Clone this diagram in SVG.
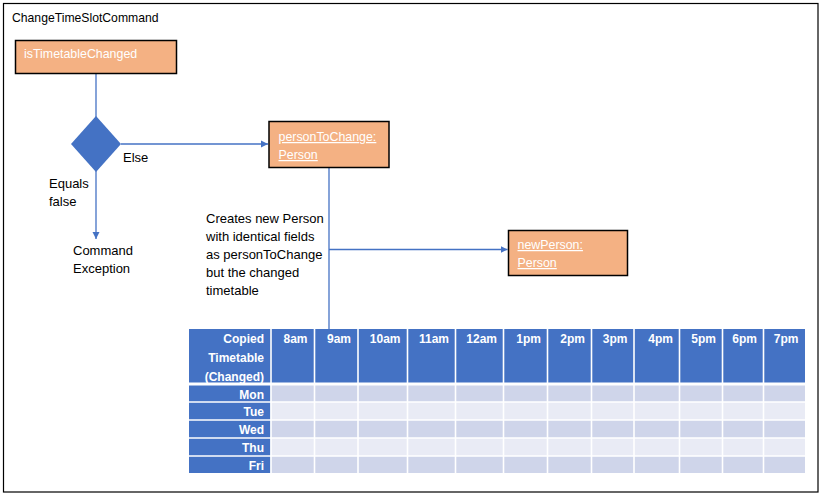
<svg xmlns="http://www.w3.org/2000/svg" width="824" height="498" viewBox="0 0 824 498">
  <style>
    text { font-family: "Liberation Sans", Arial, sans-serif; }
    .title { font-size: 12.2px; fill: #000; }
    .lbl { font-size: 13px; fill: #000; }
    .node rect { fill: #F4B183; stroke: #000; stroke-width: 1.5; }
    .nodeTxt { font-size: 12.4px; fill: #fff; }
    .u { text-decoration: underline; }
    .conn { stroke: #4472C4; stroke-width: 1.3; fill: none; }
    .th { font-size: 12px; font-weight: bold; fill: #fff; text-anchor: end; }
    .hdr { fill: #4472C4; }
    .odd { fill: #CFD5EA; }
    .even { fill: #E9EBF5; }
    .grid { stroke: #fff; stroke-width: 1.6; }
  </style>
  <defs>
    <marker id="arrow" markerWidth="8" markerHeight="8" refX="7" refY="4" orient="auto" markerUnits="userSpaceOnUse">
      <path d="M0,0.5 L7,4 L0,7.5 Z" fill="#4472C4"/>
    </marker>
  </defs>

  <rect width="824" height="498" fill="#fff"/>
  <!-- frame -->
  <rect x="3.5" y="3.5" width="814.5" height="488.5" fill="none" stroke="#000" stroke-width="1.2"/>
  <text class="title" x="12" y="22">ChangeTimeSlotCommand</text>

  <!-- connectors -->
  <g id="connectors">
    <line class="conn" x1="96" y1="73.5" x2="96" y2="117"/>
    <line class="conn" x1="121" y1="144" x2="268" y2="144" marker-end="url(#arrow)"/>
    <line class="conn" x1="96" y1="171" x2="96" y2="239" marker-end="url(#arrow)"/>
    <line class="conn" x1="329" y1="167.5" x2="329" y2="329"/>
    <line class="conn" x1="329" y1="249.5" x2="507.5" y2="249.5" marker-end="url(#arrow)"/>
  </g>

  <g id="isTimetableChanged" class="node">
    <rect x="15.5" y="40.5" width="161" height="33"/>
    <text class="nodeTxt" x="24" y="57.5">isTimetableChanged</text>
  </g>

  <g id="decision">
    <polygon points="96,116 121,144 96,172 71,144" fill="#4472C4"/>
  </g>

  <text class="lbl" x="123" y="162">Else</text>
  <text class="lbl" x="49" y="188">Equals</text>
  <text class="lbl" x="49" y="206">false</text>
  <text class="lbl" x="73" y="255">Command</text>
  <text class="lbl" x="73" y="273">Exception</text>

  <g id="personToChange" class="node">
    <rect x="269" y="121.5" width="120" height="46"/>
    <text class="nodeTxt u" x="278.5" y="141">personToChange:</text>
    <text class="nodeTxt u" x="278.5" y="159">Person</text>
  </g>

  <text class="lbl" x="206" y="223">Creates new Person</text>
  <text class="lbl" x="206" y="241">with identical fields</text>
  <text class="lbl" x="206" y="259">as personToChange</text>
  <text class="lbl" x="206" y="277">but the changed</text>
  <text class="lbl" x="206" y="295">timetable</text>

  <g id="newPerson" class="node">
    <rect x="508.5" y="230.5" width="119" height="45"/>
    <text class="nodeTxt u" x="517.5" y="249">newPerson:</text>
    <text class="nodeTxt u" x="517.5" y="267">Person</text>
  </g>

  <!-- timetable -->
  <g id="timetable">
    <rect class="hdr" x="189" y="329" width="616" height="54"/>
    <rect class="odd" x="189" y="385" width="616" height="17"/>
    <rect class="even" x="189" y="402" width="616" height="18"/>
    <rect class="odd" x="189" y="420" width="616" height="18"/>
    <rect class="even" x="189" y="438" width="616" height="18"/>
    <rect class="odd" x="189" y="456" width="616" height="17"/>
    <rect class="hdr" x="189" y="385" width="81.5" height="88"/>
    <g class="grid">
      <line x1="189" y1="384" x2="805" y2="384" stroke-width="3"/>
      <line x1="189" y1="402" x2="805" y2="402"/>
      <line x1="189" y1="420" x2="805" y2="420"/>
      <line x1="189" y1="438" x2="805" y2="438"/>
      <line x1="189" y1="456" x2="805" y2="456"/>
      <line x1="271" y1="329" x2="271" y2="473"/>
      <line x1="314.5" y1="329" x2="314.5" y2="473"/>
      <line x1="358" y1="329" x2="358" y2="473"/>
      <line x1="407.5" y1="329" x2="407.5" y2="473"/>
      <line x1="455.5" y1="329" x2="455.5" y2="473"/>
      <line x1="503.5" y1="329" x2="503.5" y2="473"/>
      <line x1="547.5" y1="329" x2="547.5" y2="473"/>
      <line x1="591.5" y1="329" x2="591.5" y2="473"/>
      <line x1="634" y1="329" x2="634" y2="473"/>
      <line x1="679.5" y1="329" x2="679.5" y2="473"/>
      <line x1="722.5" y1="329" x2="722.5" y2="473"/>
      <line x1="763.5" y1="329" x2="763.5" y2="473"/>
    </g>
    <text class="th" x="264" y="343">Copied</text>
    <text class="th" x="264" y="362">Timetable</text>
    <text class="th" x="264" y="381">(Changed)</text>
    <text class="th" x="307.5" y="343">8am</text>
    <text class="th" x="351" y="343">9am</text>
    <text class="th" x="400.5" y="343">10am</text>
    <text class="th" x="449" y="343">11am</text>
    <text class="th" x="497" y="343">12am</text>
    <text class="th" x="541" y="343">1pm</text>
    <text class="th" x="585" y="343">2pm</text>
    <text class="th" x="627.5" y="343">3pm</text>
    <text class="th" x="673" y="343">4pm</text>
    <text class="th" x="716" y="343">5pm</text>
    <text class="th" x="757" y="343">6pm</text>
    <text class="th" x="798.5" y="343">7pm</text>
    <text class="th" x="264" y="399">Mon</text>
    <text class="th" x="264" y="416">Tue</text>
    <text class="th" x="264" y="434">Wed</text>
    <text class="th" x="264" y="452">Thu</text>
    <text class="th" x="264" y="470">Fri</text>
  </g>
</svg>
